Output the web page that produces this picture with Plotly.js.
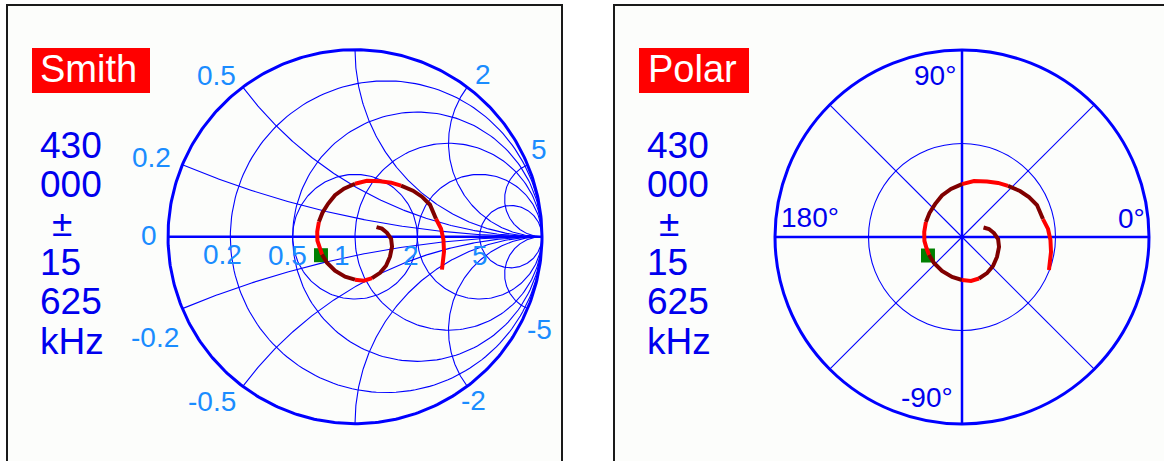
<!DOCTYPE html>
<html><head><meta charset="utf-8">
<script src="https://cdn.plot.ly/plotly-3.0.1.min.js"></script>
<style>html,body{margin:0;padding:0;background:#fff;} #chart{width:1164px;height:461px;}</style>
</head><body><div id="chart"></div>
<script>
// ---------------- data ----------------
const smithResistance = [0.2, 0.5, 1, 2, 5];
const smithReactance = [0.2, 0.5, 1, 2, 5];
const swrCircle = [1 / 3];
const polarRings = [0.5];
const polarSpokes = [45, 135, 225, 315];
const polarAxes = [0, 90];
const polarAngleLabels = ["0°", "90°", "180°", "-90°"];
const freqLines = ["430", "000", "±", "15", "625", "kHz"];
const panelTitles = ["Smith", "Polar"];
// reflection coefficient sweep (real, imaginary)
const gammaRe = [0.465, 0.476, 0.473, 0.460, 0.433, 0.401, 0.358, 0.310, 0.246, 0.193, 0.134, 0.064, 0.000,
  -0.059, -0.107, -0.144, -0.174, -0.193, -0.202, -0.201, -0.190, -0.176, -0.150, -0.107, -0.053, 0.000,
  0.048, 0.091, 0.134, 0.166, 0.187, 0.198, 0.193, 0.171, 0.144, 0.115];
const gammaIm = [-0.176, -0.080, -0.016, 0.043, 0.096, 0.171, 0.214, 0.246, 0.273, 0.289, 0.297, 0.299, 0.283,
  0.257, 0.222, 0.176, 0.128, 0.080, 0.027, -0.021, -0.059, -0.096, -0.139, -0.182, -0.214, -0.230,
  -0.235, -0.222, -0.193, -0.155, -0.107, -0.053, -0.011, 0.021, 0.043, 0.051];
// shade of each segment i -> i+1 (0 = red, 1 = dark red)
const segShade = [0,0,0,0, 1,1,1,1, 0,0,0,0, 1,1,1,1,1, 0,0,0,0, 1,1,1,1, 0,0, 1,1,1,1,1,1,1,1];
const markerRe = [-0.182];
const markerIm = [-0.099];

// ---------------- geometry helpers ----------------
const W = 1164, H = 461;
const cx = 355, cy = 236.7, R = 187;      // smith centre / radius in px
const px = x => x / W, py = y => 1 - y / H;
const BLUE = '#0000ff', LBLUE = '#1a8cff', TXT = '#0000ee';
const FONT = 'Liberation Sans, Arial, sans-serif';

function circlePts(xc, yc, r, a0, a1, n) {
  const X = [], Y = [];
  for (let i = 0; i <= n; i++) {
    const a = a0 + (a1 - a0) * i / n;
    X.push(xc + r * Math.cos(a)); Y.push(yc + r * Math.sin(a));
  }
  return [X, Y];
}
const gx = [], gy = [];
function addPath(p) { gx.push(...p[0], null); gy.push(...p[1], null); }
smithResistance.forEach(r => addPath(circlePts(r / (1 + r), 0, 1 / (1 + r), 0, 2 * Math.PI, 200)));
swrCircle.forEach(g => addPath(circlePts(0, 0, g, 0, 2 * Math.PI, 200)));
smithReactance.forEach(x => {
  [1, -1].forEach(s => {
    const xv = s * x, c = 1 / xv;
    const ix = (xv * xv - 1) / (xv * xv + 1), iy = 2 * xv / (xv * xv + 1);
    let a0 = Math.atan2(iy - c, ix - 1);
    if (a0 < 0) a0 += 2 * Math.PI;
    const a1 = s > 0 ? 1.5 * Math.PI : 0.5 * Math.PI;
    addPath(circlePts(1, c, Math.abs(c), a0, a1, 200));
  });
});
const outer = circlePts(0, 0, 1, 0, 2 * Math.PI, 400);

// split the sweep into runs of one shade
function shadeRuns() {
  const runs = [];
  let cur = null;
  for (let i = 0; i < segShade.length; i++) {
    if (!cur || cur.shade !== segShade[i]) {
      cur = {shade: segShade[i], x: [gammaRe[i]], y: [gammaIm[i]]};
      runs.push(cur);
    }
    cur.x.push(gammaRe[i + 1]); cur.y.push(gammaIm[i + 1]);
  }
  return runs;
}
const toR = (X, Y) => X.map((v, i) => Math.hypot(v, Y[i]));
const toT = (X, Y) => X.map((v, i) => Math.atan2(Y[i], v) * 180 / Math.PI);
const shadeColors = ['#ff0000', '#800000'];
const runs = shadeRuns();

const traces = [
  {x: gx, y: gy, mode: 'lines', line: {color: BLUE, width: 1.1}, hoverinfo: 'skip'},
  {x: [-1, 1], y: [0, 0], mode: 'lines', line: {color: BLUE, width: 2.5}, hoverinfo: 'skip'},
  {x: outer[0], y: outer[1], mode: 'lines', line: {color: BLUE, width: 3}, hoverinfo: 'skip'},
  {x: markerRe, y: markerIm, mode: 'markers', marker: {symbol: 'square', size: 14, color: '#008000'}, hoverinfo: 'skip'},
];
runs.forEach(run => traces.push({x: run.x, y: run.y, mode: 'lines',
  line: {color: shadeColors[run.shade], width: 4}, hoverinfo: 'skip'}));
// polar panel
polarAxes.forEach(a => traces.push({type: 'scatterpolar', r: [1, 1], theta: [a, a + 180], mode: 'lines',
  line: {color: BLUE, width: 2.5}, hoverinfo: 'skip', subplot: 'polar'}));
traces.push({type: 'scatterpolar', r: toR(markerRe, markerIm), theta: toT(markerRe, markerIm), mode: 'markers',
  marker: {symbol: 'square', size: 14, color: '#008000'}, hoverinfo: 'skip', subplot: 'polar'});
runs.forEach(run => traces.push({type: 'scatterpolar', r: toR(run.x, run.y), theta: toT(run.x, run.y),
  mode: 'lines', line: {color: shadeColors[run.shade], width: 4}, hoverinfo: 'skip', subplot: 'polar'}));

// ---------------- layout ----------------
const shapes = [
  {type: 'rect', xref: 'paper', yref: 'paper', x0: px(7), x1: px(562), y0: -0.1, y1: py(5),
   fillcolor: '#fcfdfb', line: {color: '#1a1a1a', width: 2}, layer: 'below'},
  {type: 'rect', xref: 'paper', yref: 'paper', x0: px(614), x1: px(1180), y0: -0.1, y1: py(5),
   fillcolor: '#fcfdfb', line: {color: '#1a1a1a', width: 2}, layer: 'below'},
  {type: 'rect', xref: 'paper', yref: 'paper', x0: px(32), x1: px(150), y0: py(93), y1: py(48),
   fillcolor: '#ff0000', line: {width: 0}, layer: 'below'},
  {type: 'rect', xref: 'paper', yref: 'paper', x0: px(639), x1: px(749), y0: py(93), y1: py(48),
   fillcolor: '#ff0000', line: {width: 0}, layer: 'below'},
];
const ann = [];
function label(t, x, y, size, color, xa) {
  ann.push({text: t, x: px(x), y: py(y), xref: 'paper', yref: 'paper', showarrow: false,
    xanchor: xa || 'center', yanchor: 'middle', font: {family: FONT, size: size, color: color}});
}
label(panelTitles[0], 38, 69, 38, '#ffffff', 'left');
label(panelTitles[1], 646, 69, 38, '#ffffff', 'left');
[38, 645].forEach((x0) => {
  freqLines.forEach((t, i) => {
    const y = 145.5 + 39.1 * i;
    label(t, t === '±' ? x0 + 12 : x0, y, 37, TXT, 'left');
  });
});
// smith labels
const upperPos = {0.2: [151.5, 157.5], 0.5: [216, 75], 2: [482.5, 74], 5: [538.5, 149]};
const lowerPos = {0.2: [154.5, 337.5], 0.5: [212, 401.5], 2: [473.5, 400.5], 5: [539, 329]};
const axisPos = {0.2: [222.5, 254], 0.5: [287.5, 255], 1: [342, 255], 2: [410.5, 255], 5: [479.5, 255]};
smithReactance.forEach(v => {
  if (upperPos[v]) label(String(v), upperPos[v][0], upperPos[v][1], 28, LBLUE);
  if (lowerPos[v]) label('-' + v, lowerPos[v][0], lowerPos[v][1], 28, LBLUE);
});
label('0', 148.5, 235, 28, LBLUE);
smithResistance.forEach(v => { if (axisPos[v]) label(String(v), axisPos[v][0], axisPos[v][1], 28, LBLUE); });
// polar angle labels
const polarPos = {'0°': [1131.5, 218.5], '90°': [935, 76], '180°': [809.5, 217.5], '-90°': [927, 397.5]};
polarAngleLabels.forEach(t => label(t, polarPos[t][0], polarPos[t][1], 28, TXT));

const layout = {
  width: W, height: H, margin: {l: 0, r: 0, t: 0, b: 0},
  paper_bgcolor: '#ffffff', plot_bgcolor: 'rgba(0,0,0,0)', showlegend: false,
  xaxis: {range: [-cx / R, (W - cx) / R], visible: false, fixedrange: true, domain: [0, 1]},
  yaxis: {range: [-(H - cy) / R, cy / R], visible: false, fixedrange: true, domain: [0, 1]},
  polar: {
    domain: {x: [px(775), px(1149)], y: [py(424), py(50)]},
    bgcolor: 'rgba(0,0,0,0)',
    radialaxis: {range: [0, 1], tickvals: polarRings, showticklabels: false, ticks: '', showline: false,
      showgrid: true, gridcolor: BLUE, gridwidth: 1.1, layer: 'below traces'},
    angularaxis: {tickvals: polarSpokes, showticklabels: false, ticks: '', showline: true, linecolor: BLUE,
      linewidth: 3, showgrid: true, gridcolor: BLUE, gridwidth: 1.1, layer: 'below traces'}
  },
  shapes: shapes, annotations: ann
};
Plotly.newPlot('chart', traces, layout, {staticPlot: true, displayModeBar: false});
</script></body></html>
